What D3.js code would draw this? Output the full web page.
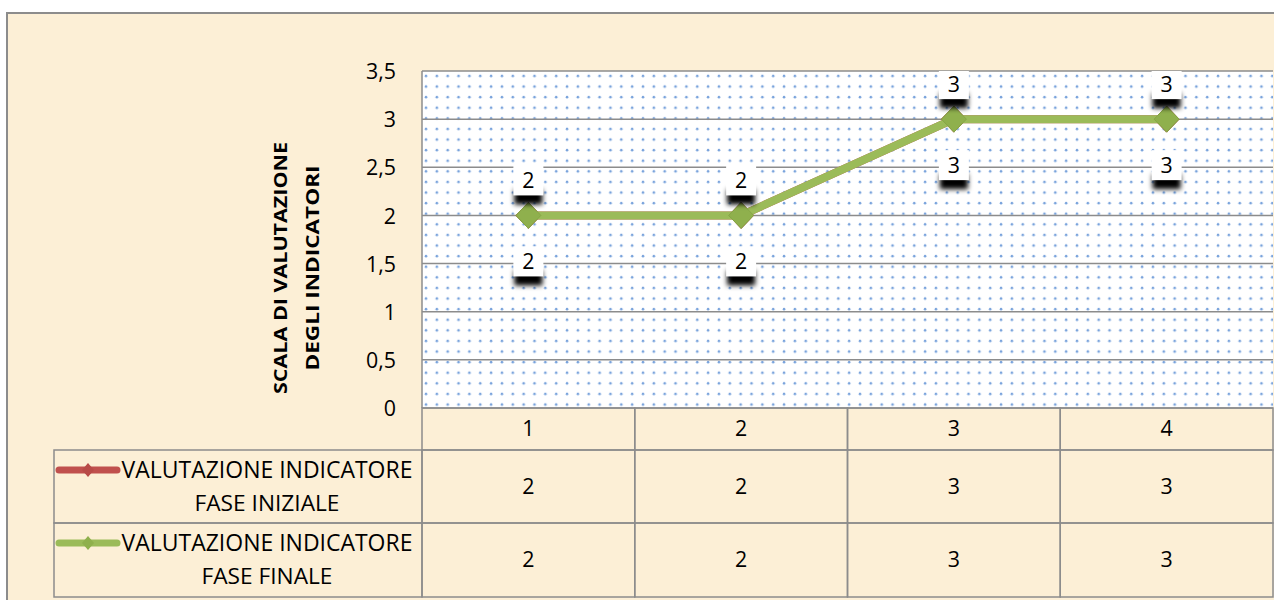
<!DOCTYPE html>
<html><head><meta charset="utf-8">
<script src="https://cdn.jsdelivr.net/npm/d3@7"></script>
<style>
html,body{margin:0;padding:0;background:#fff;}
svg{display:block;}
text{font-family:"Open Sans",sans-serif;fill:#000;}
</style></head>
<body>
<svg id="chart" width="1274" height="600"></svg>
<script>
const categories = ["1","2","3","4"];
const seriesNames = [["VALUTAZIONE INDICATORE","FASE INIZIALE"],["VALUTAZIONE INDICATORE","FASE FINALE"]];
const seriesInitial = [2,2,3,3];
const seriesFinal = [2,2,3,3];
const seriesColors = ["#C0504D","#9BBB59"];
const yTicks = [0,0.5,1,1.5,2,2.5,3,3.5];
const yTitle = ["SCALA DI VALUTAZIONE","DEGLI INDICATORI"];
const allSeries = [seriesInitial, seriesFinal];

const svg = d3.select("#chart");
function fitSize(str, target, weight){
  const t = svg.append("text").attr("font-size",100).attr("font-weight",weight||"normal").text(str);
  const w = t.node().getComputedTextLength(); t.remove();
  return 100*target/w;
}
const fsNum = Math.min(24, fitSize("3,5",30));
const fsLeg = Math.min(26, fitSize("FASE INIZIALE",145));
const fsLeg1 = Math.min(26, fitSize("VALUTAZIONE INDICATORE",291));

const defs = svg.append("defs");
const pw = 10.85, ph = 10.6;
const pat = defs.append("pattern").attr("id","dots").attr("patternUnits","userSpaceOnUse")
  .attr("width",pw).attr("height",ph).attr("x",422).attr("y",71);
pat.append("rect").attr("width",pw).attr("height",ph).attr("fill","#fff");
pat.append("circle").attr("cx",4).attr("cy",5).attr("r",1.3).attr("fill","#79a3dc");
const blur = defs.append("filter").attr("id","shadow").attr("x","-50%").attr("y","-100%").attr("width","200%").attr("height","300%");
blur.append("feGaussianBlur").attr("stdDeviation",2.5);

svg.append("rect").attr("x",7).attr("y",13).attr("width",1280).attr("height",600)
  .attr("fill","#FCEFD6").attr("stroke","#8c8c8c").attr("stroke-width",2);

const x = d3.scaleBand().domain(categories).range([422,1273]).padding(0);
const y = d3.scaleLinear().domain([0,3.5]).range([408,71]);

svg.append("rect").attr("x",422).attr("y",71).attr("width",851).attr("height",337).attr("fill","url(#dots)");
svg.append("g").selectAll("line").data(yTicks).join("line")
  .attr("x1",422).attr("x2",1273).attr("y1",d=>y(d)).attr("y2",d=>y(d))
  .attr("stroke","#8c8c8c").attr("stroke-width",1.5);
svg.append("line").attr("x1",422).attr("x2",422).attr("y1",71).attr("y2",408).attr("stroke","#8c8c8c").attr("stroke-width",1.5);

const yAxis = d3.axisLeft(y).tickValues(yTicks).tickSize(0).tickPadding(26)
  .tickFormat(d=>String(d).replace(".",","));
const ya = svg.append("g").attr("transform","translate(422,0)").call(yAxis);
ya.select(".domain").remove();
ya.attr("font-size",null).attr("font-family",null);
ya.selectAll("text").style("font-size",fsNum+"px").style("font-family","'Open Sans',sans-serif").attr("dy","0.36em");

const titlePos = [[281,268,252],[313,268,205]];
yTitle.forEach((t,i)=>{
  svg.append("text").attr("transform",`translate(${titlePos[i][0]},${titlePos[i][1]}) rotate(-90)`)
    .attr("text-anchor","middle").attr("font-weight","bold").style("font-size","18.5px")
    .attr("dy","0.35em").attr("textLength",titlePos[i][2]).attr("lengthAdjust","spacingAndGlyphs").text(t);
});

const line = d3.line().x((d,i)=>x(categories[i])+x.bandwidth()/2).y(d=>y(d));
allSeries.forEach((s,k)=>{
  svg.append("path").datum(s).attr("d",line).attr("fill","none")
    .attr("stroke",seriesColors[k]).attr("stroke-width",8).attr("stroke-linejoin","round");
  svg.append("g").selectAll("path").data(s).join("path")
    .attr("d","M0,-13L12.5,0L0,13L-12.5,0Z")
    .attr("transform",(d,i)=>`translate(${x(categories[i])+x.bandwidth()/2},${y(d)})`)
    .attr("fill",k?"#8fb04d":"#b84a47").attr("stroke",k?"#86a646":"#a94442").attr("stroke-width",1);
});

allSeries.forEach((s,k)=>{
  const off = k===0 ? -35 : 46;
  const g = svg.append("g");
  s.forEach((v,i)=>{
    const cx = x(categories[i])+x.bandwidth()/2, cy = y(v)+off;
    const top = Math.max(cy-15,71);
    g.append("rect").attr("x",cx-14).attr("y",cy+9).attr("width",28).attr("height",15)
      .attr("fill","#000").attr("filter","url(#shadow)");
    g.append("rect").attr("x",cx-15).attr("y",top).attr("width",30).attr("height",cy+15-top).attr("fill","#fff");
    g.append("text").attr("x",cx).attr("y",cy).attr("dy","0.35em").attr("text-anchor","middle")
      .style("font-size",fsNum+"px").text(v);
  });
});

const rowY = [408,450,523,597];
const tg = svg.append("g");
const stroke = "#8c8c8c";
categories.forEach(c=>{
  tg.append("rect").attr("x",x(c)).attr("y",rowY[0]).attr("width",x.bandwidth()).attr("height",rowY[1]-rowY[0])
    .attr("fill","none").attr("stroke",stroke).attr("stroke-width",1.5);
  tg.append("text").attr("x",x(c)+x.bandwidth()/2).attr("y",(rowY[0]+rowY[1])/2).attr("dy","0.35em")
    .attr("text-anchor","middle").style("font-size",fsNum+"px").text(c);
});
allSeries.forEach((s,k)=>{
  const y0 = rowY[k+1], y1 = rowY[k+2], cyr=(y0+y1)/2;
  tg.append("rect").attr("x",54).attr("y",y0).attr("width",422-54).attr("height",y1-y0)
    .attr("fill","none").attr("stroke",stroke).attr("stroke-width",1.5);
  categories.forEach((c,i)=>{
    tg.append("rect").attr("x",x(c)).attr("y",y0).attr("width",x.bandwidth()).attr("height",y1-y0)
      .attr("fill","none").attr("stroke",stroke).attr("stroke-width",1.5);
    tg.append("text").attr("x",x(c)+x.bandwidth()/2).attr("y",cyr).attr("dy","0.35em")
      .attr("text-anchor","middle").style("font-size",fsNum+"px").text(s[i]);
  });
  const ly = y0+20;
  tg.append("line").attr("x1",59).attr("x2",117).attr("y1",ly).attr("y2",ly)
    .attr("stroke",seriesColors[k]).attr("stroke-width",7).attr("stroke-linecap","round");
  tg.append("path").attr("d","M0,-7L6,0L0,7L-6,0Z").attr("transform",`translate(88,${ly})`)
    .attr("fill",k?"#8fb04d":"#b84a47");
  tg.append("text").attr("x",267).attr("y",ly).attr("dy","0.35em").attr("text-anchor","middle")
    .style("font-size",fsLeg1+"px").text(seriesNames[k][0]);
  tg.append("text").attr("x",267).attr("y",ly+33).attr("dy","0.35em").attr("text-anchor","middle")
    .style("font-size",fsLeg+"px").text(seriesNames[k][1]);
});
</script>
</body></html>
